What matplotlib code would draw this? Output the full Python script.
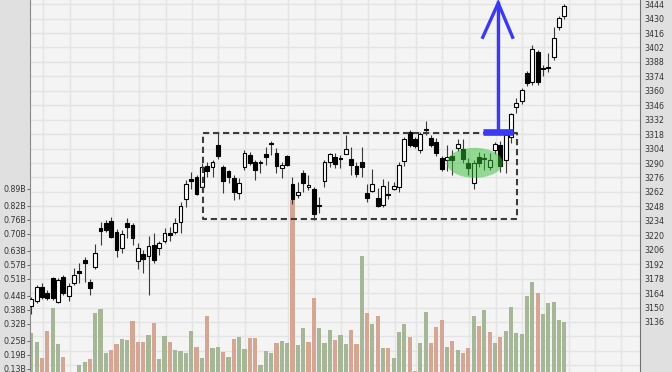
import numpy as np
import matplotlib
matplotlib.use("Agg")
import matplotlib.pyplot as plt
from matplotlib.patches import Ellipse

# daily OHLC (one entry per candle, left to right)
opens = [3151.5, 3156.6, 3169.6, 3164.4, 3178.3, 3155.7, 3179.9, 3161.2, 3173.5, 3184.9,
         3196.1, 3174.7, 3189.0, 3227.1, 3232.2, 3234.1, 3223.5, 3207.4, 3231.6, 3230.0,
         3195.4, 3201.6, 3200.2, 3210.6, 3207.4, 3214.8, 3221.9, 3223.5, 3232.9, 3254.9,
         3274.3, 3276.2, 3266.5, 3287.1, 3286.5, 3307.5, 3285.9, 3282.6, 3275.2, 3260.7,
         3285.9, 3297.8, 3290.7, 3291.0, 3298.5, 3309.4, 3300.0, 3285.5, 3297.1, 3269.7,
         3258.8, 3280.8, 3267.1, 3264.9, 3249.2, 3272.9, 3291.3, 3296.2, 3294.4, 3298.5,
         3293.6, 3287.1, 3291.3, 3261.3, 3263.2, 3255.8, 3249.4, 3259.5, 3264.6, 3266.5,
         3292.3, 3320.4, 3313.0, 3302.6, 3323.0, 3314.0, 3310.7, 3294.6, 3293.0, 3296.8,
         3304.3, 3303.3, 3289.8, 3271.0, 3296.2, 3294.9, 3286.5, 3302.6, 3307.5, 3293.0,
         3315.0, 3344.0, 3350.4, 3377.0, 3368.8, 3397.3, 3381.5, 3383.4, 3392.5, 3422.1,
         3432.5]
highs = [3160.5, 3171.8, 3174.1, 3167.0, 3179.9, 3178.6, 3181.5, 3173.5, 3188.0, 3192.9,
         3198.7, 3177.6, 3211.3, 3232.9, 3234.8, 3238.0, 3226.1, 3225.1, 3236.5, 3231.9,
         3212.2, 3205.7, 3219.3, 3221.9, 3214.8, 3226.8, 3227.7, 3236.5, 3252.6, 3273.6,
         3281.6, 3278.4, 3289.8, 3291.3, 3293.0, 3318.8, 3288.1, 3283.3, 3278.4, 3275.2,
         3302.6, 3301.0, 3293.0, 3293.0, 3305.8, 3311.4, 3304.9, 3291.3, 3298.0, 3276.8,
         3271.9, 3283.3, 3278.4, 3267.1, 3256.8, 3293.0, 3300.0, 3299.7, 3297.8, 3317.2,
         3305.3, 3291.3, 3305.3, 3269.7, 3284.0, 3265.5, 3274.3, 3272.9, 3271.6, 3291.3,
         3315.5, 3322.0, 3315.2, 3320.4, 3331.0, 3317.2, 3314.0, 3296.8, 3307.5, 3302.6,
         3313.0, 3313.0, 3294.6, 3293.0, 3301.0, 3299.5, 3299.7, 3310.7, 3311.4, 3320.4,
         3338.2, 3352.7, 3362.4, 3379.2, 3404.4, 3399.5, 3385.0, 3396.9, 3422.1, 3432.5,
         3444.1]
lows = [3143.7, 3154.4, 3158.0, 3157.3, 3157.3, 3154.4, 3162.1, 3156.6, 3171.8, 3174.1,
        3175.0, 3162.1, 3187.0, 3210.6, 3223.2, 3217.1, 3199.3, 3202.8, 3217.1, 3210.6,
        3187.0, 3183.2, 3162.1, 3192.9, 3200.9, 3212.2, 3214.8, 3221.3, 3221.9, 3247.7,
        3264.6, 3259.0, 3262.2, 3276.8, 3276.8, 3293.6, 3261.3, 3270.4, 3254.2, 3254.9,
        3283.3, 3288.1, 3273.6, 3280.1, 3288.1, 3297.8, 3280.1, 3275.2, 3287.1, 3250.3,
        3255.8, 3262.2, 3263.9, 3234.8, 3241.3, 3266.5, 3285.9, 3284.9, 3284.9, 3298.5,
        3278.4, 3276.2, 3276.8, 3252.6, 3262.2, 3247.7, 3247.7, 3254.9, 3263.4, 3262.2,
        3287.1, 3305.8, 3304.3, 3300.0, 3317.2, 3305.8, 3296.8, 3282.6, 3282.6, 3278.4,
        3302.0, 3289.8, 3278.4, 3264.6, 3286.5, 3283.3, 3283.3, 3298.8, 3281.3, 3280.4,
        3309.1, 3338.8, 3347.2, 3364.7, 3365.6, 3365.6, 3374.4, 3378.5, 3389.9, 3418.9,
        3429.3]
closes = [3158.3, 3169.6, 3160.5, 3158.9, 3159.2, 3176.7, 3164.4, 3170.9, 3181.5, 3183.8,
          3192.9, 3168.6, 3203.1, 3224.6, 3225.1, 3218.6, 3205.7, 3221.3, 3227.7, 3217.7,
          3208.0, 3197.0, 3209.6, 3196.1, 3212.2, 3222.5, 3220.3, 3232.2, 3248.7, 3269.7,
          3272.6, 3260.0, 3285.9, 3282.6, 3291.3, 3297.1, 3272.9, 3276.8, 3262.2, 3270.4,
          3300.0, 3290.3, 3283.3, 3290.1, 3295.6, 3308.7, 3287.1, 3288.1, 3288.4, 3254.9,
          3262.0, 3270.2, 3269.2, 3240.6, 3248.4, 3291.3, 3298.5, 3289.1, 3293.6, 3303.3,
          3288.1, 3279.4, 3285.9, 3256.4, 3269.7, 3248.4, 3267.8, 3258.8, 3267.8, 3288.1,
          3313.0, 3307.5, 3306.5, 3318.2, 3322.2, 3307.5, 3299.5, 3283.9, 3296.2, 3292.5,
          3308.5, 3293.6, 3284.9, 3290.3, 3289.6, 3294.2, 3293.4, 3308.5, 3287.1, 3317.2,
          3337.2, 3347.9, 3360.8, 3367.3, 3400.2, 3368.8, 3380.8, 3381.8, 3410.9, 3430.3,
          3442.2]
# volume in billions
volumes = [0.283, 0.245, 0.175, 0.290, 0.386, 0.234, 0.182, 0.100, 0.090, 0.147,
           0.161, 0.171, 0.365, 0.382, 0.196, 0.210, 0.236, 0.255, 0.252, 0.334,
           0.245, 0.245, 0.274, 0.323, 0.171, 0.269, 0.245, 0.210, 0.207, 0.199,
           0.292, 0.221, 0.175, 0.354, 0.217, 0.222, 0.200, 0.182, 0.257, 0.264,
           0.214, 0.262, 0.262, 0.147, 0.206, 0.196, 0.238, 0.248, 0.238, 0.844,
           0.231, 0.302, 0.245, 0.428, 0.302, 0.238, 0.295, 0.252, 0.274, 0.234,
           0.295, 0.234, 0.607, 0.365, 0.320, 0.354, 0.217, 0.217, 0.177, 0.287,
           0.320, 0.266, 0.122, 0.238, 0.369, 0.238, 0.306, 0.337, 0.224, 0.249,
           0.210, 0.196, 0.217, 0.355, 0.311, 0.379, 0.287, 0.238, 0.264, 0.290,
           0.393, 0.281, 0.278, 0.438, 0.499, 0.450, 0.362, 0.407, 0.412, 0.337,
           0.327]

price_ticks = [3094, 3108, 3122, 3136, 3150, 3164, 3178, 3192, 3206, 3220, 3234, 3248, 3262,
               3276, 3290, 3304, 3318, 3332, 3346, 3360, 3374, 3388, 3402, 3416, 3430, 3444]
vol_ticks = [0.13, 0.19, 0.25, 0.32, 0.38, 0.44, 0.51, 0.57, 0.63, 0.70, 0.76, 0.82, 0.89]
# week separators (in candle units)
week_lines = [2.2, 7.2, 15.3, 20.2, 25.2, 30.2, 35.1, 40.1, 48.1, 53.2, 58.1, 63.1, 68.2,
              72.1, 77.1, 82.1, 87.1, 92.1, 96.1, 100.8, 105.8, 110.7]

o = np.array(opens); c = np.array(closes); h = np.array(highs); l = np.array(lows)
x = np.arange(len(c))
prev_close = np.r_[o[0], c[:-1]]
vol_up = c >= prev_close
bull = c > o

fig = plt.figure(figsize=(6.72, 3.72), dpi=100, facecolor="#e0e0e0")
pos = [30 / 672, 0, 610 / 672, 1]

# price axis (background + grid + right labels)
ax = fig.add_axes(pos)
axv = ax.twinx()  # volume axis, drawn above the price background

ax.set_facecolor("#f4f4f4")
ax.set_xlim(-0.24, 114.2)
ax.set_ylim(3087.5, 3448)
ax.yaxis.tick_right()
ax.set_yticks(price_ticks)
ax.set_yticklabels([str(p) if p >= 3136 else "" for p in price_ticks])
ax.tick_params(axis="y", which="both", left=False, labelleft=False, right=True, labelright=True,
               length=0, pad=3, labelsize=5.7, labelcolor="#333333")
ax.set_xticks([])
ax.grid(axis="y", color="#e4e4e4", lw=1)
for wx in week_lines:
    ax.axvline(wx, color="#e4e4e4", lw=1, zorder=0.5)
for s in ["top", "bottom", "left"]:
    ax.spines[s].set_visible(False)
ax.spines["right"].set_color("#707070")

axv.set_ylim(0.1173, 1.688)
axv.set_yticks(vol_ticks)
axv.set_yticklabels([f"{v:.2f}B" for v in vol_ticks])
axv.tick_params(axis="y", left=True, labelleft=True, right=False, labelright=False,
                length=2.5, width=0.7, color="#666666", pad=0.5,
                labelsize=5.7, labelcolor="#333333")
for s in ["top", "bottom", "right"]:
    axv.spines[s].set_visible(False)
axv.spines["left"].set_visible(True)
axv.spines["left"].set_color("#888888")
axv.bar(x, volumes, width=0.78, color=np.where(vol_up, "#a5b796", "#d6a694"), lw=0)

# candles on top
axc = fig.add_axes(pos, sharex=ax, sharey=ax)
axc.set_zorder(5)
axc.patch.set_visible(False)
axc.axis("off")
axc.vlines(x, l, h, color="#3a3a3a", lw=0.8, zorder=1)
body_lo = np.minimum(o, c)
body_h = np.maximum(np.abs(c - o), 0.9)
axc.bar(x, body_h, bottom=body_lo, width=0.72,
        color=np.where(bull, "white", "black"), edgecolor="black", lw=0.8, zorder=2)

# consolidation box
box_x0, box_x1 = 32.16, 91.1
box_lo, box_hi = 3235.8, 3318.8
axc.plot([box_x0, box_x1, box_x1, box_x0, box_x0], [box_hi, box_hi, box_lo, box_lo, box_hi],
         color="#3c3c3c", lw=1.5, ls=(0, (3, 1.8)), zorder=3)

# highlight of the squeeze
axc.add_patch(Ellipse((83.2, 3290.2), 10.5, 29.1, facecolor=(0.2, 0.75, 0.2),
                      alpha=0.5, lw=0, zorder=4))

# breakout target arrow
blue = "#3a3af5"
axc.plot([84.8, 90.3], [3320.4, 3320.4], color=blue, lw=4.8, solid_capstyle="butt", zorder=6)
axc.plot([87.6, 87.6], [3320.4, 3445], color=blue, lw=2.4, zorder=6)
axc.plot([84.7, 87.6, 90.3], [3411.9, 3445, 3411.9], color=blue, lw=2.4,
         solid_joinstyle="miter", zorder=6)

fig.savefig("out.png", dpi=100, facecolor=fig.get_facecolor())
